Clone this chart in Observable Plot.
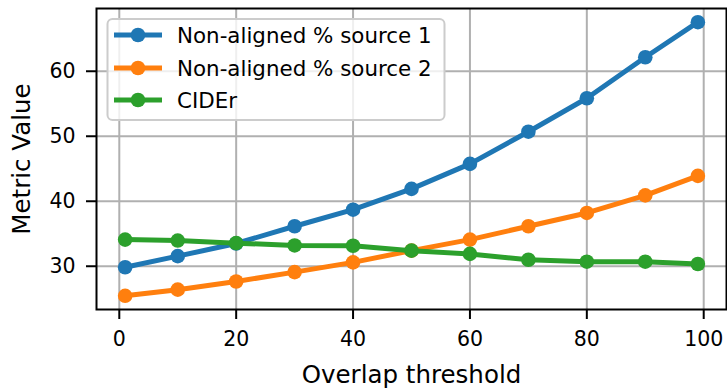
<!DOCTYPE html>
<html>
<head>
<meta charset="utf-8">
<script src="https://cdn.jsdelivr.net/npm/d3@7"></script>
<script src="https://cdn.jsdelivr.net/npm/@observablehq/plot@0.6"></script>
<style>
  html, body { margin: 0; padding: 0; background: #fff; }
  svg { display: block; }
</style>
</head>
<body>
<div id="chart"></div>
<script>
const thresholds = [1, 10, 20, 30, 40, 50, 60, 70, 80, 90, 99];
const source1 = [29.85, 31.55, 33.5, 36.15, 38.7, 41.9, 45.75, 50.7, 55.85, 62.15, 67.55];
const source2 = [25.45, 26.4, 27.65, 29.1, 30.6, 32.4, 34.1, 36.15, 38.2, 40.9, 43.9];
const cider = [34.1, 33.95, 33.55, 33.2, 33.15, 32.4, 31.9, 31.0, 30.7, 30.7, 30.35];
const seriesNames = ["Non-aligned % source 1", "Non-aligned % source 2", "CIDEr"];
const seriesColors = ["#1f77b4", "#ff7f0e", "#2ca02c"];
const xTicks = [0, 20, 40, 60, 80, 100];
const yTicks = [30, 40, 50, 60];
const xLabel = "Overlap threshold";
const yLabel = "Metric Value";

const seriesValues = [source1, source2, cider];
const data = seriesValues.flatMap((vals, i) =>
  vals.map((v, j) => ({series: seriesNames[i], x: thresholds[j], y: v})));

// matplotlib-like 5% autoscale margins
function pad(ext) { const m = (ext[1] - ext[0]) * 0.05; return [ext[0] - m, ext[1] + m]; }
const xDomain = pad(d3.extent(thresholds));
const yDomain = pad(d3.extent(data, d => d.y));

const font = "DejaVu Sans, sans-serif";
const marks = [
  Plot.gridX(xTicks, {stroke: "#b0b0b0", strokeOpacity: 1, strokeWidth: 2}),
  Plot.gridY(yTicks, {stroke: "#b0b0b0", strokeOpacity: 1, strokeWidth: 2}),
];
seriesNames.forEach((name, i) => {
  const d = data.filter(r => r.series === name);
  marks.push(Plot.line(d, {x: "x", y: "y", stroke: seriesColors[i], strokeWidth: 5, strokeLinejoin: "round", strokeLinecap: "butt"}));
  marks.push(Plot.dot(d, {x: "x", y: "y", r: 7.3, fill: seriesColors[i], stroke: "none"}));
});
marks.push(
  Plot.frame({stroke: "black", strokeWidth: 2}),
  Plot.axisX(xTicks, {tickSize: 10, tickPadding: 12, fontSize: 20.5, label: null, stroke: "black", strokeWidth: 2, fill: "black", tickFormat: d3.format("d")}),
  Plot.axisY(yTicks, {tickSize: 10, tickPadding: 11, fontSize: 20.5, label: null, stroke: "black", strokeWidth: 2, fill: "black", tickFormat: d3.format("d")}),
  Plot.text([xLabel], {frameAnchor: "bottom", textAnchor: "middle", lineAnchor: "bottom", dy: 73.5, fontSize: 24.5, fill: "black", text: d => d}),
  Plot.text([yLabel], {frameAnchor: "left", textAnchor: "middle", lineAnchor: "middle", dx: -74, rotate: -90, fontSize: 24.5, fill: "black", text: d => d})
);

const svg = Plot.plot({
  width: 727,
  height: 388,
  marginLeft: 96,
  marginRight: 1,
  marginTop: 8,
  marginBottom: 79,
  style: {fontFamily: font, background: "#fff", color: "black", overflow: "visible"},
  x: {domain: xDomain, axis: null},
  y: {domain: yDomain, axis: null},
  marks
});
document.getElementById("chart").appendChild(svg);

// Legend (upper left, matplotlib style)
const lg = d3.select(svg).append("g").attr("font-family", font).attr("text-anchor", "start");
lg.append("rect")
  .attr("x", 107.5).attr("y", 19).attr("width", 337).attr("height", 101)
  .attr("rx", 5).attr("ry", 5)
  .attr("fill", "white").attr("fill-opacity", 0.8)
  .attr("stroke", "#cccccc").attr("stroke-width", 2);
const rowY = [35, 68, 100];
seriesNames.forEach((name, i) => {
  const g = lg.append("g");
  g.append("line").attr("x1", 114).attr("x2", 162).attr("y1", rowY[i]).attr("y2", rowY[i])
    .attr("stroke", seriesColors[i]).attr("stroke-width", 5);
  g.append("circle").attr("cx", 138).attr("cy", rowY[i]).attr("r", 7.3).attr("fill", seriesColors[i]);
  g.append("text").attr("x", 177).attr("y", rowY[i]).attr("dy", "0.36em")
    .attr("text-anchor", "start")
    .attr("font-size", 21.4).attr("fill", "black").text(name);
});
</script>
</body>
</html>
